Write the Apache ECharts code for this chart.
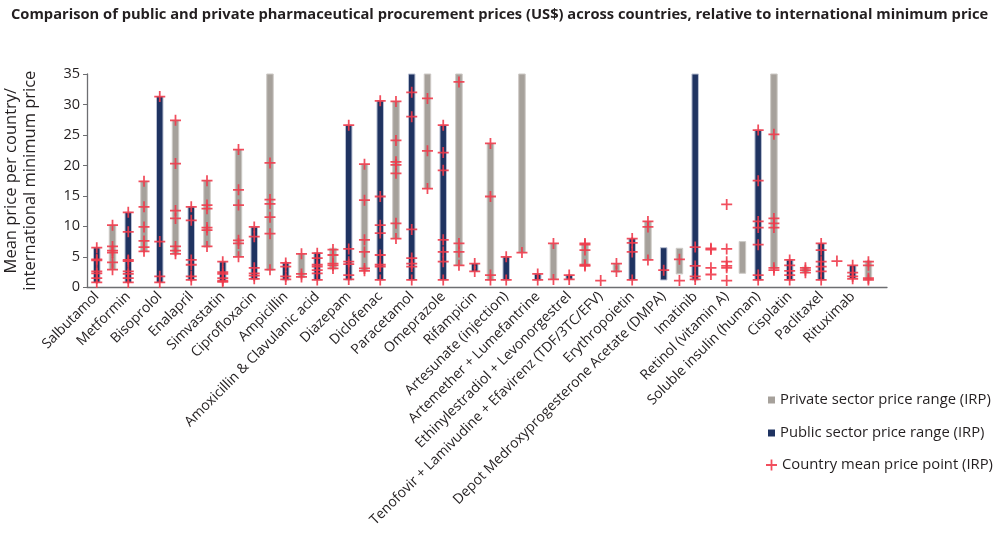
<!DOCTYPE html>
<html>
<head>
<meta charset="utf-8">
<script src="https://cdn.jsdelivr.net/npm/echarts@6/dist/echarts.min.js"></script>
<style>
  html, body { margin: 0; padding: 0; background: #ffffff; }
  #chart { width: 1000px; height: 547px; }
</style>
</head>
<body>
<div id="chart"></div>
<script>
// ---------- DATA ----------
const categories = [
  'Salbutamol', 'Metformin', 'Bisoprolol', 'Enalapril', 'Simvastatin', 'Ciprofloxacin',
  'Ampicillin', 'Amoxicillin & Clavulanic acid', 'Diazepam', 'Diclofenac', 'Paracetamol',
  'Omeprazole', 'Rifampicin', 'Artesunate (injection)', 'Artemether + Lumefantrine',
  'Ethinylestradiol + Levonorgestrel', 'Tenofovir + Lamivudine + Efavirenz (TDF/3TC/EFV)',
  'Erythropoietin', 'Depot Medroxyprogesterone Acetate (DMPA)', 'Imatinib',
  'Retinol (vitamin A)', 'Soluble insulin (human)', 'Cisplatin', 'Paclitaxel', 'Rituximab'
];

// public sector price range [min, max] per drug (null = no range)
const publicRange = [
  [0.8, 6.5], [0.8, 12.3], [0.8, 31.3], [1.2, 13.2], [0.9, 4.2], [1.3, 9.9],
  [1.2, 4.0], [1.2, 5.7], [1.2, 26.6], [1.2, 30.6], [1.2, 40], [1.2, 26.6],
  [2.6, 3.9], [1.2, 5.0], [1.2, 2.2], [1.3, 2.0], null, [1.2, 8.0],
  [1.2, 6.5], [1.2, 40], null, [1.2, 25.8], [1.2, 4.5], [1.2, 7.2], [1.4, 3.6]
];

// private sector price range [min, max] per drug (null = no range)
const privateRange = [
  [2.9, 10.2], [5.9, 17.4], [5.5, 27.4], [6.6, 17.5], [5.0, 22.6], [2.8, 40],
  [1.6, 5.5], [3.0, 6.4], [2.7, 20.2], [8.0, 30.5], [16.2, 40], [3.6, 40],
  [1.2, 23.6], [5.7, 40], [1.3, 7.2], [3.5, 7.2], [2.5, 3.9], [4.5, 10.8],
  [2.2, 6.4], null, [2.3, 7.5], [3.0, 40], [2.4, 3.3], null, [1.2, 4.3]
];

// country mean price points (public sector)
const publicPoints = [
  [6.5, 4.6, 4.4, 2.6, 2.3, 1.5, 0.8],
  [12.3, 9.1, 4.5, 4.3, 2.6, 2.2, 1.5, 0.8],
  [31.3, 7.5, 1.8, 0.8],
  [13.2, 11.0, 4.5, 3.7, 1.8, 1.2],
  [4.2, 2.5, 2.2, 1.5, 1.1, 0.9],
  [9.9, 8.3, 3.2, 2.3, 1.9, 1.4],
  [4.0, 3.4, 1.8, 1.3],
  [5.6, 4.8, 3.7, 3.4, 2.8, 2.3, 1.2],
  [26.6, 6.3, 4.2, 3.8, 2.0, 1.3],
  [30.6, 14.9, 10.2, 8.9, 5.3, 3.7, 3.4, 1.2],
  [32.0, 28.0, 9.5, 4.8, 3.9, 3.4, 1.2],
  [26.6, 22.1, 19.2, 7.8, 5.8, 4.2, 1.2],
  [3.9, 2.6],
  [5.0, 1.2],
  [2.2, 1.2],
  [2.0, 1.3],
  [1.1],
  [8.0, 7.3, 5.8, 1.2],
  [2.8],
  [6.6, 3.5, 1.8, 1.3],
  [13.6, 6.3, 4.2, 3.5, 3.2, 1.1],
  [25.8, 17.5, 10.8, 9.8, 7.0, 2.0, 1.2],
  [4.5, 3.6, 2.7, 2.0, 1.2],
  [7.2, 6.1, 4.2, 3.4, 2.6, 1.2],
  [3.6, 2.4, 1.8, 1.4]
];

// country mean price points (private sector)
const privatePoints = [
  [10.2, 6.7, 6.0, 5.7, 4.1, 2.9],
  [17.4, 13.2, 9.9, 7.6, 6.6, 5.9],
  [27.4, 20.3, 12.6, 11.3, 6.7, 6.0, 5.5],
  [17.5, 13.5, 12.9, 9.8, 9.4, 6.7],
  [22.6, 16.0, 13.5, 7.7, 7.2, 5.0],
  [20.4, 14.4, 13.7, 11.5, 8.8, 2.9],
  [5.5, 2.2, 1.7],
  [6.2, 5.3, 3.9, 3.6, 3.1],
  [20.2, 14.3, 7.8, 5.8, 3.1, 2.7],
  [30.5, 24.1, 20.6, 20.1, 18.7, 10.5, 8.0],
  [31.0, 22.4, 16.2],
  [33.7, 7.2, 5.8, 3.6],
  [23.6, 14.9, 2.0, 1.2],
  [5.7],
  [7.2, 1.3],
  [7.2, 7.0, 6.1, 3.7, 3.5],
  [3.9, 2.6],
  [10.8, 9.9, 4.5],
  [4.6, 1.1],
  [6.4, 6.2, 3.2, 2.1],
  [],
  [25.1, 11.3, 10.5, 9.8, 3.2, 2.8],
  [3.2, 2.8, 2.4],
  [4.3],
  [4.2, 3.6, 1.5, 1.2]
];

const yTicks = [0, 5, 10, 15, 20, 25, 30, 35];

const seriesNames = {
  priv: 'Private sector price range (IRP)',
  pub: 'Public sector price range (IRP)',
  pts: 'Country mean price point (IRP)'
};

// ---------- STYLE ----------
const NAVY = '#1f3361';
const GREY = '#a6a19b';
const RED = '#ef3b4b';
const TEXT = '#231f20';
const AXIS = '#6d6e71';
const PUB_OFF = 0.31;   // position of public bar inside a category slot
const PRIV_OFF = 0.81;  // position of private bar inside a category slot
const FONT = "'Open Sans', 'Noto Sans', sans-serif";
const CROSS = 'path://M4.2,0h1.6v4.2h4.2v1.6h-4.2v4.2h-1.6v-4.2h-4.2v-1.6h4.2z';

function rangeData(ranges) {
  const out = [];
  ranges.forEach((r, i) => { if (r) out.push([i, r[0], r[1]]); });
  return out;
}
function pointData(points, off) {
  const out = [];
  points.forEach((arr, i) => arr.forEach(v => out.push([i + off, v])));
  return out;
}
function makeRender(off, fill, stroke) {
  return function (params, api) {
    const k = api.value(0);
    const p1 = api.coord([k + off, api.value(1)]);
    const p2 = api.coord([k + off, api.value(2)]);
    const w = 6.5;
    const cs = params.coordSys;
    const rect = echarts.graphic.clipRectByRect(
      { x: p1[0] - w / 2, y: p2[1], width: w, height: p1[1] - p2[1] },
      { x: cs.x, y: cs.y, width: cs.width, height: cs.height }
    );
    if (!rect) return null;
    return {
      type: 'rect',
      shape: rect,
      style: { fill: fill, stroke: stroke, lineWidth: 1 }
    };
  };
}

const chart = echarts.init(document.getElementById('chart'), null, { renderer: 'canvas' });

const option = {
  animation: false,
  backgroundColor: '#ffffff',
  textStyle: { fontFamily: FONT },
  title: {
    text: 'Comparison of public and private pharmaceutical procurement prices (US$) across countries, relative to international minimum price',
    left: 6,
    top: 2,
    textStyle: { fontFamily: FONT, fontSize: 14.7, fontWeight: 'bold', color: TEXT }
  },
  legend: [
    {
      data: [seriesNames.priv, seriesNames.pub],
      orient: 'vertical',
      left: 763,
      top: 386,
      itemWidth: 7,
      itemHeight: 7,
      itemGap: 15,
      icon: 'rect',
      textStyle: { fontFamily: FONT, fontSize: 14.8, color: TEXT, lineHeight: 18 }
    },
    {
      data: [seriesNames.pts],
      orient: 'vertical',
      left: 761,
      top: 451,
      itemWidth: 11,
      itemHeight: 11,
      itemGap: 0,
      textStyle: { fontFamily: FONT, fontSize: 14.8, color: TEXT, lineHeight: 18 }
    }
  ],
  grid: { left: 87, top: 74, width: 800, height: 213.3, containLabel: false, outerBoundsMode: 'none' },
  xAxis: {
    type: 'value',
    min: 0,
    max: 25.4,
    splitLine: { show: false },
    axisLine: { show: true, onZero: false, lineStyle: { color: AXIS, width: 1.3 } },
    axisTick: { show: false },
    axisLabel: {
      show: true,
      customValues: categories.map((c, i) => i + PUB_OFF),
      formatter: function (v) { return categories[Math.round(v - PUB_OFF)] || ''; },
      rotate: 45,
      margin: 7,
      fontSize: 14,
      color: TEXT,
      fontFamily: FONT
    }
  },
  yAxis: {
    type: 'value',
    min: 0,
    max: 35,
    interval: 5,
    name: 'Mean price per country/\ninternational minimum price',
    nameLocation: 'middle',
    nameRotate: 90,
    nameGap: 47,
    nameTextStyle: { fontFamily: FONT, fontSize: 16.5, fontWeight: 500, color: TEXT, lineHeight: 19 },
    splitLine: { show: false },
    axisLine: { show: true, lineStyle: { color: AXIS, width: 1.3 } },
    axisTick: { show: true, length: 4, lineStyle: { color: AXIS } },
    axisLabel: {
      fontSize: 14.5, color: TEXT, margin: 7, fontFamily: FONT,
      customValues: yTicks
    }
  },
  series: [
    {
      name: seriesNames.priv,
      type: 'custom',
      renderItem: makeRender(PRIV_OFF, GREY, '#cdcac6'),
      itemStyle: { color: GREY },
      encode: { x: 0, y: [1, 2] },
      data: rangeData(privateRange),
      z: 2
    },
    {
      name: seriesNames.pub,
      type: 'custom',
      renderItem: makeRender(PUB_OFF, NAVY, '#b9c0d2'),
      itemStyle: { color: NAVY },
      encode: { x: 0, y: [1, 2] },
      data: rangeData(publicRange),
      z: 2
    },
    {
      name: seriesNames.pts,
      type: 'scatter',
      symbol: CROSS,
      symbolSize: 11,
      itemStyle: { color: RED, opacity: 0.9 },
      data: pointData(publicPoints, PUB_OFF).concat(pointData(privatePoints, PRIV_OFF)),
      z: 3
    }
  ]
};

chart.setOption(option);
</script>
</body>
</html>
